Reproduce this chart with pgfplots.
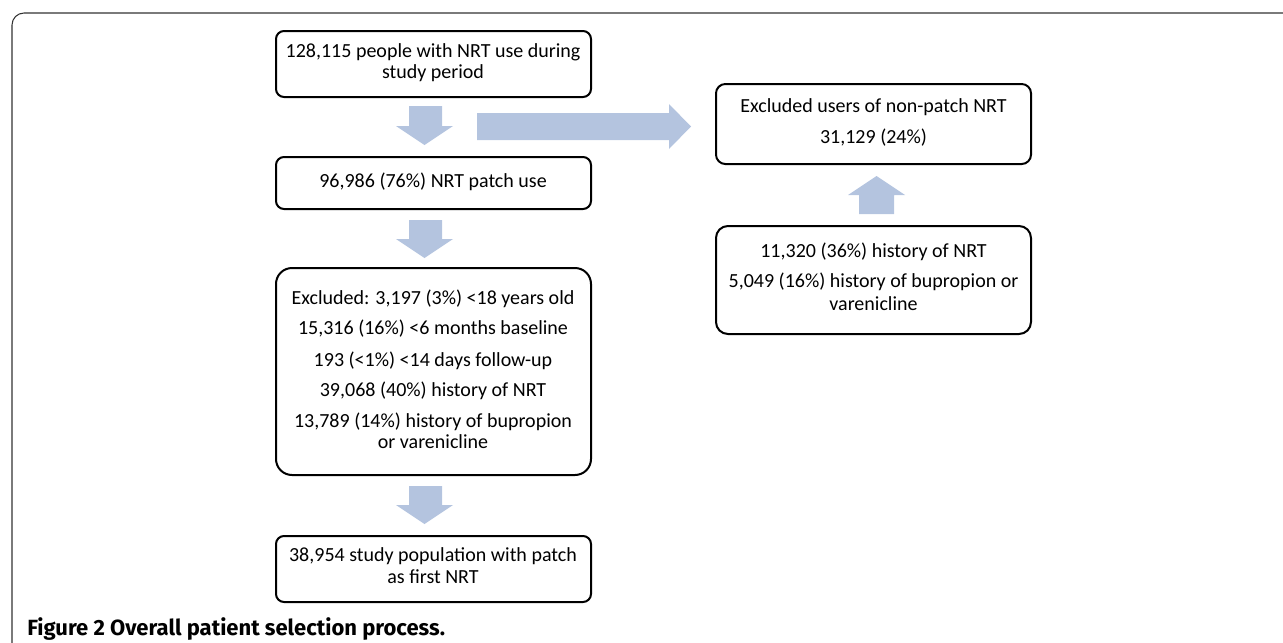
\documentclass[border=0pt]{standalone}
\usepackage{fontspec}
\setmainfont{Carlito}
\newfontfamily\capfont{Fira Sans}
\usepackage{pgfplots}
\pgfplotsset{compat=1.18}
\definecolor{arrowc}{RGB}{180,196,223}
\definecolor{framec}{RGB}{50,50,50}
\begin{document}
\begin{tikzpicture}
\begin{axis}[
  scale only axis, width=962.25pt, height=482.25pt,
  xmin=0, xmax=1283, ymin=0, ymax=643, y dir=reverse,
  hide axis, clip=true,
]
\path (0,0) rectangle (1283,643);
% outer frame
\draw[framec, line width=0.8pt, rounded corners=9pt] (12,643) -- (12,13) -- (1283,13);
% arrows
\addplot[fill=arrowc, draw=none] coordinates {(409,106) (442,106) (442,126) (453,126) (424.5,145) (396,126) (409,126)} -- cycle;
\addplot[fill=arrowc, draw=none] coordinates {(409,220) (442,220) (442,239) (453,239) (424.5,258) (396,239) (409,239)} -- cycle;
\addplot[fill=arrowc, draw=none] coordinates {(409,486) (442,486) (442,505) (453,505) (424.5,524) (396,505) (409,505)} -- cycle;
\addplot[fill=arrowc, draw=none] coordinates {(477,113) (669,113) (669,104) (691,126.5) (669,149) (669,140) (477,140)} -- cycle;
\addplot[fill=arrowc, draw=none] coordinates {(859,214) (859,195) (848,195) (876.5,176) (905,195) (894,195) (894,214)} -- cycle;
% boxes
\draw[line width=1.5pt, rounded corners=6pt] (276,31) rectangle (591,97);
\draw[line width=1.5pt, rounded corners=6pt] (276,157) rectangle (591,209);
\draw[line width=1.5pt, rounded corners=12pt] (276,268) rectangle (591,475);
\draw[line width=1.5pt, rounded corners=6pt] (276,536) rectangle (591,602);
\draw[line width=1.5pt, rounded corners=7pt] (716,84) rectangle (1031,164);
\draw[line width=1.5pt, rounded corners=9pt] (716,226) rectangle (1031,334);
% texts
\tikzset{lbl/.style={font=\fontsize{15}{18}\selectfont, text height=0.64em, text depth=0pt, inner sep=0pt, anchor=center}}
\node[lbl] at (433,53) {128,115 people with NRT use during};
\node[lbl] at (433,74) {study period};
\node[lbl] at (433,183) {96,986 (76\%) NRT patch use};
\node[lbl] at (433,300) {Excluded: 3,197 (3\%) <18 years old};
\node[lbl] at (433,330) {15,316 (16\%) <6 months baseline};
\node[lbl] at (433,362) {193 (<1\%) <14 days follow-up};
\node[lbl] at (433,392) {39,068 (40\%) history of NRT};
\node[lbl] at (433,423) {13,789 (14\%) history of bupropion};
\node[lbl] at (433,444) {or varenicline};
\node[lbl] at (433,557) {38,954 study population with patch};
\node[lbl] at (433,579) {as first NRT};
\node[lbl] at (873.5,108) {Excluded users of non-patch NRT};
\node[lbl] at (873.5,139) {31,129 (24\%)};
\node[lbl] at (873.5,253) {11,320 (36\%) history of NRT};
\node[lbl] at (873.5,283) {5,049 (16\%) history of bupropion or};
\node[lbl] at (873.5,306) {varenicline};
\node[anchor=base west, inner sep=0pt, font=\capfont\bfseries\fontsize{16.5}{19}\selectfont] at (27,635) {Figure 2 Overall patient selection process.};
\end{axis}
\end{tikzpicture}
\end{document}
